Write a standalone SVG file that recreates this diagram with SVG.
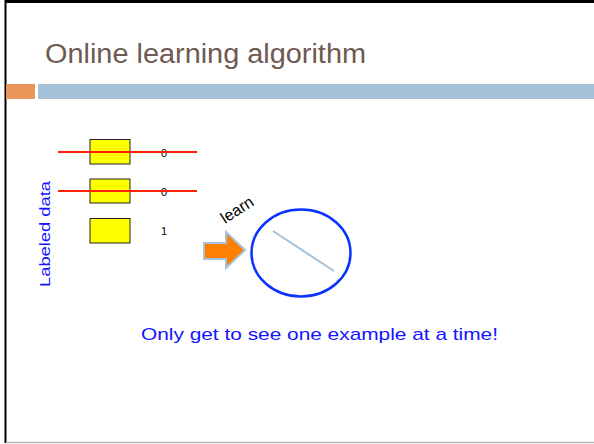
<svg xmlns="http://www.w3.org/2000/svg" width="594" height="444" viewBox="0 0 594 444">
<style>
.box{fill:#ffff00;stroke:#222;stroke-width:1}
.strike{stroke:#ff2000;stroke-width:2}
.lbl{font-family:"Liberation Sans",Arial,sans-serif;font-size:11px;fill:#000}
.blue{font-family:"Liberation Sans",Arial,sans-serif;fill:#1414ff}
</style>
<rect x="0" y="0" width="594" height="444" fill="#fff"/>
<line x1="5" y1="1.5" x2="594" y2="1.5" stroke="#000" stroke-width="3"/>
<line x1="5.5" y1="0" x2="5.5" y2="443" stroke="#000" stroke-width="2"/>
<line x1="6" y1="442.5" x2="594" y2="442.5" stroke="#b8b8b8" stroke-width="1.5"/>
<g id="title">
<text x="45" y="63" font-family="'Liberation Sans',Arial,sans-serif" font-size="27" fill="#6e5a50" textLength="321" lengthAdjust="spacingAndGlyphs">Online learning algorithm</text>
<rect x="6" y="84" width="29" height="15" fill="#e8965a"/>
<rect x="38" y="84" width="556" height="15" fill="#a5c2da"/>
</g>
<g id="data1"><rect class="box" x="90" y="139.5" width="40" height="24.5"/><text class="lbl" x="161" y="157">0</text></g>
<g id="data2"><rect class="box" x="90" y="179" width="40" height="24"/><text class="lbl" x="161" y="196">0</text></g>
<g id="data3"><rect class="box" x="90" y="218.5" width="40" height="24.5"/><text class="lbl" x="161" y="235">1</text></g>
<g id="strikes">
<line class="strike" x1="58" y1="152" x2="197" y2="152"/>
<line class="strike" x1="58" y1="191" x2="197" y2="191"/>
</g>
<g id="labeled-data"><text class="blue" font-size="14" transform="translate(50,287) rotate(-90)" textLength="106" lengthAdjust="spacingAndGlyphs">Labeled data</text></g>
<g id="connectors">
<path d="M204,243 H226 V232 L245,250 L226,268 V259 H204 Z" fill="#ff8000" stroke="#a5c2da" stroke-width="2"/>
<text x="0" y="0" font-family="'Liberation Sans',Arial,sans-serif" font-size="16" fill="#000" transform="translate(225,224) rotate(-33)">learn</text>
</g>
<g id="model">
<ellipse cx="301" cy="253" rx="49.5" ry="43.5" fill="none" stroke="#0a32ff" stroke-width="2.5"/>
<line x1="273" y1="231" x2="334" y2="271" stroke="#a5c2da" stroke-width="2"/>
</g>
<g id="caption"><text class="blue" x="141" y="340" font-size="17" textLength="357" lengthAdjust="spacingAndGlyphs">Only get to see one example at a time!</text></g>
</svg>
